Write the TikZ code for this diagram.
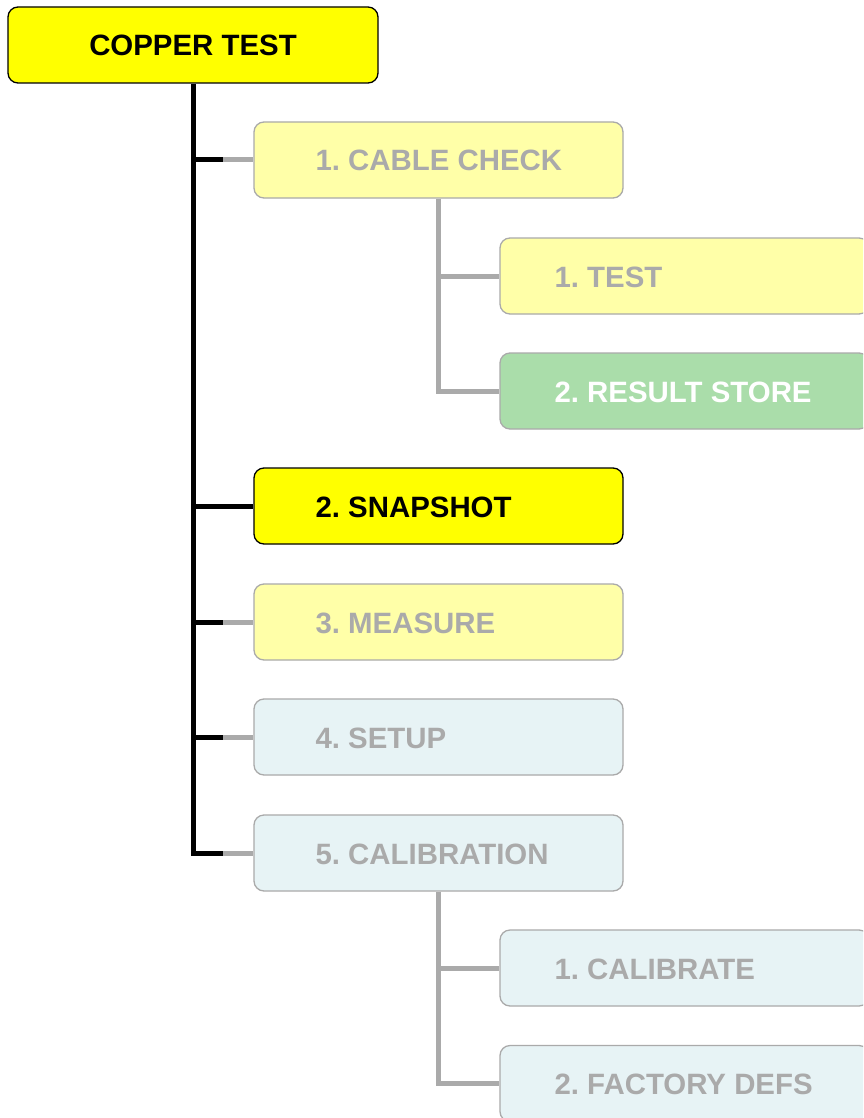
\documentclass[tikz,border=0pt]{standalone}
\usepackage{fontspec}
\setmainfont{Liberation Sans}
\usetikzlibrary{calc}
\frenchspacing
\definecolor{hiyellow}{HTML}{FFFF00}
\definecolor{paleyellow}{HTML}{FFFFA8}
\definecolor{palegreen}{HTML}{AADDAA}
\definecolor{paleblue}{HTML}{E7F3F5}
\definecolor{dimgray}{HTML}{AAAAAA}
\tikzset{
  box/.style={rectangle, rounded corners=10pt, minimum width=369pt,
    minimum height=76pt, inner sep=0pt, line width=1.3pt},
  activebox/.style={box, draw=black, fill=hiyellow},
  dimyellow/.style={box, draw=dimgray, fill=paleyellow},
  dimgreen/.style={box, draw=dimgray, fill=palegreen},
  dimblue/.style={box, draw=dimgray, fill=paleblue},
  lbl/.style={inner sep=0pt, font=\bfseries\fontsize{29.4}{34}\selectfont},
  blk/.style={draw=black, line width=5pt},
  gry/.style={draw=dimgray, line width=5pt},
}
\begin{document}
\begin{tikzpicture}[x=1pt,y=-1pt]
\clip (0,0) rectangle (863,1118);
\fill[white] (0,0) rectangle (863,1118);

% menu boxes
\node[activebox, minimum width=370pt] (root) at (193,45) {};
\node[dimyellow] (c1)  at (438.5,160) {};
\node[dimyellow] (c11) at (684.5,276) {};
\node[dimgreen]  (c12) at (684.5,391) {};
\node[activebox] (c2)  at (438.5,506) {};
\node[dimyellow] (c3)  at (438.5,622) {};
\node[dimblue]   (c4)  at (438.5,737) {};
\node[dimblue]   (c5)  at (438.5,853) {};
\node[dimblue]   (c51) at (684.5,968) {};
\node[dimblue]   (c52) at (684.5,1083.5) {};

% labels
\node[lbl, anchor=base] (t0) at ([yshift=-11pt]root.center) {COPPER TEST};
\node[lbl, anchor=base west, text=dimgray] (t1) at ([xshift=62pt,yshift=-11pt]c1.west) {1. CABLE CHECK};
\node[lbl, anchor=base west, text=dimgray] (t11) at ([xshift=55pt,yshift=-11pt]c11.west) {1. TEST};
\node[lbl, anchor=base west, text=white] (t12) at ([xshift=55pt,yshift=-11pt]c12.west) {2. RESULT STORE};
\node[lbl, anchor=base west] (t2) at ([xshift=62pt,yshift=-11pt]c2.west) {2. SNAPSHOT};
\node[lbl, anchor=base west, text=dimgray] (t3) at ([xshift=62pt,yshift=-11pt]c3.west) {3. MEASURE};
\node[lbl, anchor=base west, text=dimgray] (t4) at ([xshift=62pt,yshift=-11pt]c4.west) {4. SETUP};
\node[lbl, anchor=base west, text=dimgray] (t5) at ([xshift=62pt,yshift=-11pt]c5.west) {5. CALIBRATION};
\node[lbl, anchor=base west, text=dimgray] (t51) at ([xshift=55pt,yshift=-11pt]c51.west) {1. CALIBRATE};
\node[lbl, anchor=base west, text=dimgray] (t52) at ([xshift=55pt,yshift=-11pt]c52.west) {2. FACTORY DEFS};

% main trunk
\coordinate (m1) at ($(root.south |- c1.west)!0.5!(c1.west)$);
\coordinate (m3) at ($(root.south |- c3.west)!0.5!(c3.west)$);
\coordinate (m4) at ($(root.south |- c4.west)!0.5!(c4.west)$);
\coordinate (m5) at ($(root.south |- c5.west)!0.5!(c5.west)$);
\draw[blk] (root.south) -- (root.south |- c5.west) -- (m5);
\draw[blk] (root.south |- c1.west) -- (m1);
\draw[blk] (root.south |- c2.west) -- (c2.west);
\draw[blk] (root.south |- c3.west) -- (m3);
\draw[blk] (root.south |- c4.west) -- (m4);
\draw[gry] (m1) -- (c1.west);
\draw[gry] (m3) -- (c3.west);
\draw[gry] (m4) -- (c4.west);
\draw[gry] (m5) -- (c5.west);

% sub-menu branches
\draw[gry] (c1.south) -- (c1.south |- c12.west) -- (c12.west);
\draw[gry] (c1.south |- c11.west) -- (c11.west);
\draw[gry] (c5.south) -- (c5.south |- c52.west) -- (c52.west);
\draw[gry] (c5.south |- c51.west) -- (c51.west);
\end{tikzpicture}
\end{document}
